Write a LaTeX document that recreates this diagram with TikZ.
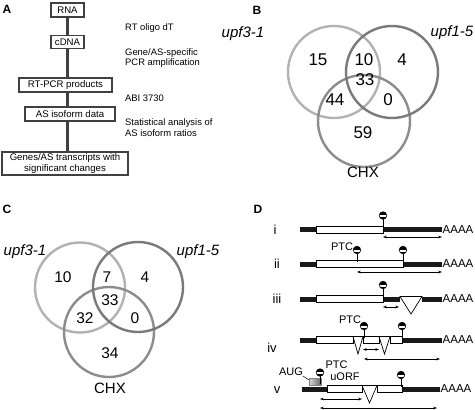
\documentclass[tikz,border=0pt]{standalone}
\usepackage{fontspec}
\setmainfont{Liberation Sans}
\usetikzlibrary{arrows.meta}
\begin{document}
\begin{tikzpicture}[x=1pt,y=-1pt,
  panel/.style={font=\fontsize{12}{12}\selectfont\bfseries, inner sep=0},
  flowbox/.style={draw=black!75, line width=1.1pt, fill=white, inner sep=0, font=\fontsize{9.6}{11}\selectfont, align=center},
  note/.style={font=\fontsize{9.4}{11}\selectfont, anchor=west, inner sep=0},
  flowline/.style={draw=black!75, line width=2.4pt},
  vnum/.style={font=\fontsize{17}{17}\selectfont, inner sep=0},
  vnumc/.style={font=\fontsize{15.5}{15.5}\selectfont, inner sep=0},
  vlab/.style={font=\fontsize{15}{15}\selectfont, inner sep=0},
  vcirc/.style={circle, draw, line width=2.4pt, minimum size=92pt, inner sep=0},
  vcircc/.style={circle, draw, line width=2.4pt, minimum size=90pt, inner sep=0},
  mrna/.style={line width=5pt, black!90},
  exon/.style={draw=black, line width=0.7pt, fill=white},
  intron/.style={draw=black, line width=0.7pt},
  darr/.style={{Stealth[length=3.8pt,width=2.8pt]}-{Stealth[length=3.8pt,width=2.8pt]}, line width=0.6pt},
  dtxt/.style={font=\fontsize{11}{11}\selectfont, inner sep=0},
  roman/.style={font=\fontsize{13}{13}\selectfont, inner sep=0},
  polya/.style={font=\fontsize{11.5}{11.5}\selectfont, inner sep=0.5pt, anchor=west},
  lolli/.pic={
    \draw[line width=0.8pt] (0,-2.5) -- (0,-10.5);
    \begin{scope}
      \clip (0,-14) circle[radius=3.8pt];
      \fill[white] (-4,-18) rectangle (4,-10);
      \fill[black] (-4,-18) rectangle (4,-14.4);
      \fill[black] (-4,-12.1) rectangle (4,-10);
    \end{scope}
    \draw[line width=0.6pt] (0,-14) circle[radius=3.8pt];
  }
]
\useasboundingbox (0,0) rectangle (475,410);

% ---------------- Panel A ----------------
\node[panel] (pA) at (7,9) {A};
\node[flowbox, minimum width=33pt, minimum height=14pt] (rna) at (67.5,10) {RNA};
\node[flowbox, minimum width=33pt, minimum height=13pt] (cdna) at (67.5,42) {cDNA};
\node[flowbox, minimum width=93pt, minimum height=14pt] (rtpcr) at (65.5,85) {RT-PCR products};
\node[flowbox, minimum width=90pt, minimum height=14pt] (asiso) at (70,114) {AS isoform data};
\node[flowbox, minimum width=126pt, minimum height=23pt] (genes) at (65,163.5) {Genes/AS transcripts with\\significant changes};
\draw[flowline] (rna.south) -- (cdna.north);
\draw[flowline] (cdna.south) -- (cdna.south |- rtpcr.north);
\draw[flowline] (cdna.south |- rtpcr.south) -- (cdna.south |- asiso.north);
\draw[flowline] (cdna.south |- asiso.south) -- (cdna.south |- genes.north);
\node[note] (n1) at (125,28) {RT oligo dT};
\node[note] (n2) at (125,53) {Gene/AS-specific};
\node[note] (n3) at (125,63.5) {PCR amplification};
\node[note] (n4) at (125,98) {ABI 3730};
\node[note] (n5) at (125,123) {Statistical analysis of};
\node[note] (n6) at (125,133.5) {AS isoform ratios};

% ---------------- Panel B ----------------
\node[panel] (pB) at (257,10) {B};
\node[vcirc, draw=black!30] (b1) at (334,72) {};
\node[vcirc, draw=black!45] (b3) at (364,121) {};
\node[vcirc, draw=black!52] (b2) at (392,72) {};
\node[vlab] (bl1) at (243,34) {\itshape upf3-1};
\node[vlab] (bl2) at (452,33) {\itshape upf1-5};
\node[vlab] (bl3) at (363,172) {CHX};
\node[vnum] (bn1) at (318,60) {15};
\node[vnum] (bn2) at (364,60) {10};
\node[vnum] (bn3) at (402,60) {4};
\node[vnum] (bn4) at (365,80) {33};
\node[vnum] (bn5) at (335,100) {44};
\node[vnum] (bn6) at (388,100) {0};
\node[vnum] (bn7) at (363,133) {59};

% ---------------- Panel C ----------------
\node[panel] (pC) at (7,209) {C};
\node[vcircc, draw=black!30] (c1) at (80,287.5) {};
\node[vcircc, draw=black!45] (c3) at (109,332) {};
\node[vcircc, draw=black!52] (c2) at (138,287) {};
\node[vlab] (cl1) at (25,252) {\itshape upf3-1};
\node[vlab] (cl2) at (198,252) {\itshape upf1-5};
\node[vlab] (cl3) at (110,388) {CHX};
\node[vnumc] (cn1) at (63,277) {10};
\node[vnumc] (cn2) at (107,277) {7};
\node[vnumc] (cn3) at (145,277) {4};
\node[vnumc] (cn4) at (110,300) {33};
\node[vnumc] (cn5) at (85,318) {32};
\node[vnumc] (cn6) at (135,318) {0};
\node[vnumc] (cn7) at (110,353) {34};

% ---------------- Panel D ----------------
\node[panel] (pD) at (258,209) {D};

% row i
\node[roman] (ri) at (275,230) {i};
\draw[mrna] (300,229.5) -- (442,229.5);
\draw[exon] (316,226) rectangle (383,233);
\pic at (383,229.5) {lolli};
\node[polya] (ai) at (442,229.5) {AAAA};
\draw[darr] (383,237) -- (442,237);

% row ii
\node[roman] (rii) at (277,264) {ii};
\draw[mrna] (300,264) -- (442,264);
\draw[exon] (316,260.5) rectangle (403,267.5);
\pic at (357,264) {lolli};
\pic at (403,264) {lolli};
\node[dtxt] (ptc2) at (342,247) {PTC};
\node[polya] (aii) at (442,264) {AAAA};
\draw[darr] (357,272) -- (442,272);

% row iii
\node[roman] (riii) at (277,299) {iii};
\draw[mrna] (300,299) -- (400,299);
\draw[mrna] (422,299) -- (442,299);
\draw[exon] (316,295.5) rectangle (383,302.5);
\draw[intron] (400,296.5) -- (411,314) -- (422,296.5) -- cycle;
\pic at (383,299) {lolli};
\node[polya] (aiii) at (442,299) {AAAA};
\draw[darr] (383,307) -- (399,307);

% row iv
\node[roman] (riv) at (272,348) {iv};
\draw[mrna] (300,340) -- (316,340);
\draw[mrna] (402,340) -- (442,340);
\draw[exon] (316,336.5) rectangle (353,343.5);
\draw[exon] (363,336.5) rectangle (379,343.5);
\draw[exon] (390,336.5) rectangle (402,343.5);
\draw[intron] (353,336.5) -- (358,354) -- (363,336.5) -- cycle;
\draw[intron] (379,336.5) -- (384.5,354) -- (390,336.5) -- cycle;
\pic at (364,340) {lolli};
\pic at (402,340) {lolli};
\node[dtxt] (ptc4) at (350,320) {PTC};
\node[polya] (aiv) at (442,340) {AAAA};
\draw[darr] (363,349.5) -- (379,349.5);
\draw[darr] (364,359) -- (440,359);

% row v
\node[roman] (rv) at (277,390) {v};
\draw[mrna] (302,389) -- (327,389);
\draw[mrna] (402,389) -- (440,389);
\draw[left color=black!15, right color=black!60, draw=black!50, line width=0.3pt] (309,378.5) rectangle (321,385.5);
\draw[exon] (327,385.5) rectangle (362,392.5);
\draw[exon] (377,385.5) rectangle (402,392.5);
\draw[intron] (362,385.5) -- (369.5,403) -- (377,385.5) -- cycle;
\pic at (320,386.5) {lolli};
\pic at (401,389) {lolli};
\node[dtxt] (aug) at (291,372) {AUG};
\draw[line width=0.5pt] (aug.south east) -- (309,380);
\node[dtxt] (ptc5) at (336.5,365) {PTC};
\node[dtxt] (uorf) at (345,377) {uORF};
\node[polya] (av) at (440,389) {AAAA};
\draw[darr] (320,399) -- (362,399);
\draw[darr] (320,408) -- (437,408);
\end{tikzpicture}
\end{document}
